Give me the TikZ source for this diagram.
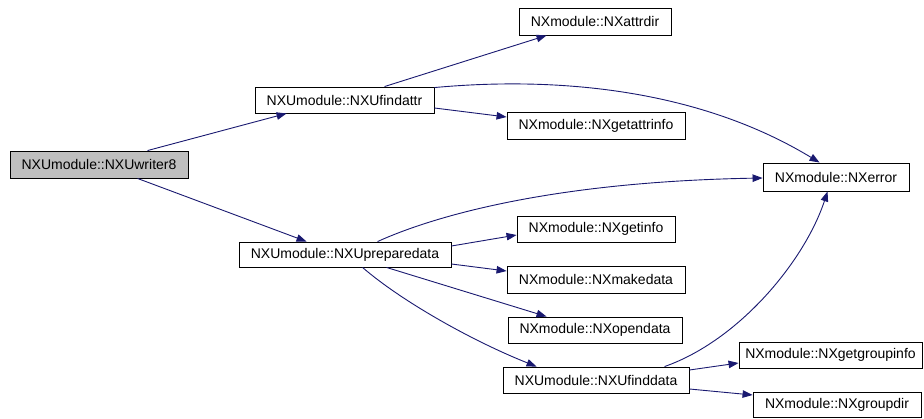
\documentclass[tikz,border=0pt]{standalone}
\usepackage{fontspec}
\setmainfont{Liberation Sans}
\usetikzlibrary{arrows.meta}
\definecolor{edgeblue}{HTML}{191970}
\definecolor{rootgrey}{HTML}{BFBFBF}
\begin{document}
\begin{tikzpicture}[x=1pt,y=-1pt,
  fn/.style={draw=black,line width=0.9pt,fill=white,minimum height=26pt,
    inner sep=0pt,font=\fontsize{14}{16}\selectfont},
  call/.style={draw=edgeblue,line width=0.9pt,
    -{Triangle[length=10pt,width=7.5pt]}},
]
\useasboundingbox (0,0) rectangle (924,418);

% functions
\node[fn,fill=rootgrey,minimum width=178pt,minimum height=27pt] (w8) at (99,164.5) {NXUmodule::NXUwriter8};
\node[fn,minimum width=179pt] (fa) at (344.5,100) {NXUmodule::NXUfindattr};
\node[fn,minimum width=212pt,minimum height=25pt] (pd) at (345,254.5) {NXUmodule::NXUpreparedata};
\node[fn,minimum width=152pt,minimum height=27pt] (ad) at (595,21.5) {NXmodule::NXattrdir};
\node[fn,minimum width=178pt,minimum height=27pt] (gai) at (596,125.5) {NXmodule::NXgetattrinfo};
\node[fn,minimum width=146pt,minimum height=28pt] (er) at (836,177) {NXmodule::NXerror};
\node[fn,minimum width=158pt] (gi) at (596,229) {NXmodule::NXgetinfo};
\node[fn,minimum width=178pt,minimum height=27pt] (md) at (596,279.5) {NXmodule::NXmakedata};
\node[fn,minimum width=174pt] (od) at (595,330) {NXmodule::NXopendata};
\node[fn,minimum width=186pt] (fd) at (596,380) {NXUmodule::NXUfinddata};
\node[fn,minimum width=183pt] (ggi) at (830.5,355) {NXmodule::NXgetgroupinfo};
\node[fn,minimum width=168pt,minimum height=25pt] (gd) at (837,404.5) {NXmodule::NXgroupdir};

% calls
\draw[call] ([xshift=138pt]w8.north west) -- ([xshift=32pt]fa.south west);
\draw[call] ([xshift=128pt]w8.south west) -- ([xshift=68pt]pd.north west);

\draw[call] ([xshift=130pt]fa.north west) -- ([xshift=28pt]ad.south west);
\draw[call] ([yshift=-1pt]fa.north east) .. controls (560,76) and (700,90) .. ([xshift=57pt]er.north west);
\draw[call] ([yshift=-8pt]fa.east) -- ([yshift=8.5pt]gai.west);

\draw[call] ([xshift=139pt]pd.north west) .. controls (425,220) and (540,182) .. ([yshift=-1pt]er.west);
\draw[call] ([yshift=8.5pt]pd.east) -- ([yshift=-6pt]gi.west);
\draw[call] ([yshift=-9.5pt]pd.east) -- ([yshift=8.5pt]md.west);
\draw[call] ([xshift=148pt]pd.south west) -- ([xshift=39pt]od.north west);
\draw[call] ([xshift=124pt]pd.south west) .. controls (400,300) and (470,340) .. ([xshift=34pt]fd.north west);

\draw[call] ([xshift=162pt]fd.north west) .. controls (740,340) and (805,260) .. ([xshift=65pt]er.south west);
\draw[call] ([yshift=10pt]fd.east) -- ([yshift=-8pt]ggi.west);
\draw[call] ([yshift=-9pt]fd.east) -- ([yshift=9.5pt]gd.west);
\end{tikzpicture}
\end{document}
